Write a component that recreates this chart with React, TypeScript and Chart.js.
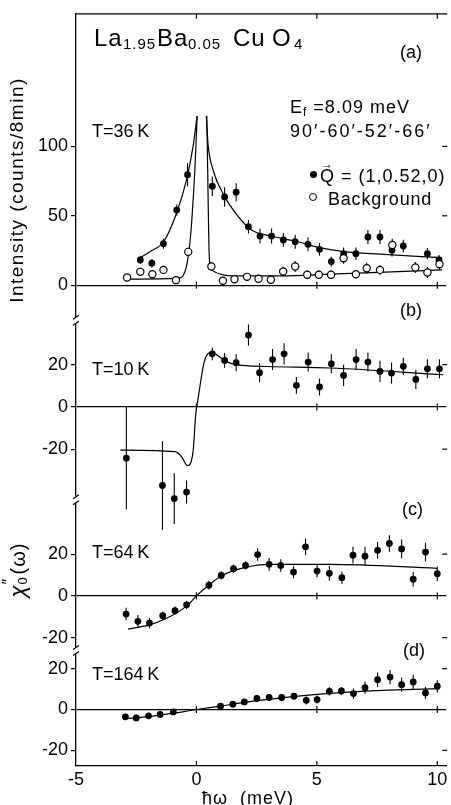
import React, { useEffect, useRef } from 'react';
import { Chart, registerables } from 'chart.js';

Chart.register(...registerables);

const FONT = '"Liberation Sans", Arial, Helvetica, sans-serif';

// ---------- shared energy axis ----------
const X_MIN = -5;
const X_MAX = 10.37;
const X_TICKS = [-5, 0, 5, 10];
const X_MINOR_MARKS = [0, 5, 10];

// ---------- panel (a): T = 36 K, intensity (counts / 8 min) ----------
const A_RANGE = [-25.3, 195.6];
const A_TICKS = [0, 50, 100];
const A_SIG_X = [-2.33, -1.85, -1.37, -0.82, -0.37, 0.66, 1.17, 1.65, 2.16, 2.64, 3.12, 3.61, 4.1, 4.63, 5.11, 5.6, 6.11, 6.62, 7.12, 7.62, 8.12, 8.59, 9.59, 10.07];
const A_SIG_Y = [18.2, 15.8, 29.9, 54.1, 79.6, 71.3, 63.6, 67.0, 42.1, 35.4, 35.4, 32.6, 31.3, 29.4, 25.8, 17.0, 22.7, 22.7, 34.7, 34.7, 25.1, 28.3, 22.7, 18.2];
const A_SIG_ERR = [3, 3, 3.6, 4, 8.4, 7, 7, 6.5, 4.8, 5.4, 5.4, 5, 5, 5, 4.5, 3.5, 4.5, 4.5, 5, 5, 4.5, 4.5, 4, 3.5];
const A_BG_X = [-2.88, -2.33, -1.83, -1.37, -0.85, -0.34, 0.62, 1.1, 1.58, 2.1, 2.58, 3.09, 3.6, 4.1, 4.6, 5.08, 5.59, 6.11, 6.62, 7.07, 7.62, 8.13, 9.09, 9.59, 10.09];
const A_BG_Y = [5.5, 9.6, 7.9, 11.0, 3.6, 24.0, 13.4, 3.2, 4.3, 6.0, 4.6, 3.9, 9.8, 13.4, 7.5, 7.5, 7.5, 19.4, 7.9, 12.2, 11.0, 29.0, 12.7, 9.1, 15.1];
const A_BG_ERR = [2.5, 3, 3, 3, 2.5, 3, 3, 2.5, 2.5, 2.5, 2.5, 2.5, 3.5, 4, 3, 3, 3, 4, 3, 4, 3.5, 4.5, 4, 4, 4];
const A_FIT_SIG_L_X = [-2.43, -1.9, -1.37, -0.82, -0.41, -0.14, 0.03];
const A_FIT_SIG_L_Y = [18.7, 24.5, 31.1, 52.2, 76, 100, 122];
const A_FIT_SIG_R_X = [0.41, 0.48, 0.69, 1.17, 1.72, 2.27, 3.09, 4.1, 5.11, 6.11, 7.62, 10.2];
const A_FIT_SIG_R_Y = [122, 102, 83, 64, 49.8, 40, 35.4, 31.8, 27, 24.2, 22.3, 19.8];
const A_FIT_BG_L_X = [-2.9, -0.75, -0.55, -0.41, -0.27, -0.18, -0.06, 0.03];
const A_FIT_BG_L_Y = [4.3, 5.0, 7.0, 13.9, 30.6, 49.8, 85, 122];
const A_FIT_BG_R_X = [0.43, 0.47, 0.51, 0.55, 0.69, 1.17, 1.44, 3.5, 5.56, 10.2];
const A_FIT_BG_R_Y = [122, 80, 35, 16.3, 10.3, 7.2, 6.7, 6.7, 7.9, 11.0];

// ---------- panel (b): T = 10 K ----------
const B_RANGE = [-44, 41];
const B_TICKS = [-20, 0, 20];
const B_X = [-2.91, -1.41, -0.92, -0.41, 0.66, 1.17, 1.65, 2.16, 2.62, 3.16, 3.64, 4.15, 4.64, 5.11, 5.6, 6.11, 6.63, 7.12, 7.62, 8.1, 8.59, 9.11, 9.59, 10.09];
const B_Y = [-24.3, -37.2, -43.4, -40.3, 25.1, 22.0, 20.9, 34.0, 16.2, 22.4, 25.1, 10.2, 21.2, 9.4, 20.4, 14.9, 22.4, 21.2, 16.8, 16.0, 19.2, 13.0, 18.0, 18.0];
const B_ERR = [24.3, 21, 12, 5.4, 3, 3.5, 4, 5, 4.5, 5, 5, 4, 4.5, 4, 4.5, 5, 5, 4.5, 5, 5, 4, 4.5, 4.5, 4.5];
const B_FIT_X = [-3.16, -0.89, -0.62, -0.37, -0.14, -0.03, 0.07, 0.32, 0.55, 0.75, 1.17, 1.58, 2.96, 5.56, 10.25];
const B_FIT_Y = [-20.5, -21.2, -23.5, -27.8, -21.2, -3.9, 3.9, 21.2, 25.6, 25.2, 22.0, 20.1, 19.1, 18.4, 15.2];

// ---------- panel (c): T = 64 K ----------
const C_RANGE = [-26.1, 46];
const C_TICKS = [-20, 0, 20];
const C_X = [-2.92, -2.43, -1.95, -1.4, -0.89, -0.41, 0.52, 1.03, 1.54, 2.04, 2.54, 3.02, 3.5, 4.03, 4.53, 5.01, 5.52, 6.04, 6.5, 7.0, 7.52, 8.01, 8.52, 9.0, 9.51, 10.0];
const C_Y = [-8.7, -12.2, -13.0, -9.5, -7.1, -4.3, 5.1, 9.8, 13.0, 14.6, 19.8, 15.1, 14.6, 11.4, 23.5, 11.9, 10.8, 8.7, 19.5, 19.0, 21.8, 25.1, 22.5, 8.0, 21.0, 10.6];
const C_ERR = [3, 3, 2.5, 2, 2, 2, 2, 2, 2, 2, 3, 3, 3, 3, 4, 3, 3.5, 3, 4, 4.5, 4, 4, 4.5, 3.5, 4.5, 3.5];
const C_FIT_X = [-2.84, -1.99, -1.3, -0.4, 0, 0.52, 1.03, 1.99, 3.02, 5.56, 10.0];
const C_FIT_Y = [-15.9, -14.0, -11.1, -4.8, 0, 5.2, 9.5, 13.5, 15.1, 15.1, 13.2];

// ---------- panel (d): T = 164 K ----------
const D_RANGE = [-27.7, 29];
const D_TICKS = [-20, 0, 20];
const D_X = [-2.95, -2.5, -1.99, -1.51, -0.96, 1.0, 1.51, 1.99, 2.51, 3.02, 3.54, 4.05, 4.56, 5.01, 5.52, 6.02, 6.52, 7.0, 7.52, 8.04, 8.52, 9.0, 9.51, 10.0];
const D_Y = [-3.6, -4.1, -3.1, -2.4, -1.2, 1.6, 2.6, 3.7, 5.4, 5.9, 5.9, 6.5, 4.5, 4.9, 8.9, 9.1, 7.8, 10.7, 14.6, 15.9, 12.2, 13.5, 8.1, 11.4];
const D_ERR = [1.5, 1.5, 1.5, 1.5, 1.5, 1.5, 1.5, 1.5, 1.5, 1.5, 1.5, 1.5, 2, 2, 2, 2, 2.5, 3, 3.5, 3.5, 3.5, 3.5, 3, 3];
const D_FIT_X = [-3.02, -2, -1, 0, 1, 2, 3, 4, 5, 6, 7, 8, 10.1];
const D_FIT_Y = [-4.5, -3.5, -1.9, 0, 1.7, 3.5, 5.0, 6.3, 7.4, 8.3, 9.0, 9.5, 10.2];

const pts = (xs: number[], ys: number[]) => xs.map((x, i) => ({ x, y: ys[i] }));

const filled = (axis: string, xs: number[], ys: number[], errs: number[]) => ({
  type: 'scatter',
  yAxisID: axis,
  data: pts(xs, ys),
  errorBars: errs,
  pointRadius: 3.4,
  pointHoverRadius: 3.4,
  pointBackgroundColor: '#000',
  pointBorderColor: '#000',
  pointBorderWidth: 0,
  showLine: false,
  clip: false,
  order: 1,
});

const hollow = (axis: string, xs: number[], ys: number[], errs: number[]) => ({
  type: 'scatter',
  yAxisID: axis,
  data: pts(xs, ys),
  errorBars: errs,
  pointRadius: 3.6,
  pointHoverRadius: 3.6,
  pointBackgroundColor: '#fff',
  pointBorderColor: '#000',
  pointBorderWidth: 1.2,
  showLine: false,
  clip: false,
  order: 0,
});

const fit = (axis: string, xs: number[], ys: number[]) => ({
  type: 'scatter',
  yAxisID: axis,
  data: pts(xs, ys),
  showLine: true,
  cubicInterpolationMode: 'monotone',
  borderColor: '#000',
  borderWidth: 1.2,
  pointRadius: 0,
  pointHoverRadius: 0,
  fill: false,
  order: 2,
});

const yScale = (range: number[], ticks: number[], weight: number, px: number) => ({
  type: 'linear',
  position: 'left',
  stack: 'panels',
  stackWeight: px,
  weight,
  min: range[0],
  max: range[1],
  afterBuildTicks: (s: any) => {
    s.ticks = ticks.map((v) => ({ value: v }));
  },
  afterFit: (s: any) => {
    s.width = 76;
  },
  border: { display: true, color: '#000', width: 1.3 },
  grid: {
    display: true,
    drawOnChartArea: true,
    color: (c: any) => (c.tick && c.tick.value === 0 ? '#000' : 'rgba(0,0,0,0)'),
    lineWidth: 1.2,
    tickColor: '#000',
    tickLength: 5,
    tickWidth: 1.2,
  },
  ticks: {
    color: '#000',
    padding: 3,
    font: { family: FONT, size: 18 },
    autoSkip: false,
  },
});

const decorPlugin = {
  id: 'decor',
  beforeDatasetsDraw(chart: any) {
    const ctx = chart.ctx;
    const xs = chart.scales.x;
    ctx.save();
    ctx.strokeStyle = '#000';
    ctx.lineWidth = 1.1;
    chart.data.datasets.forEach((ds: any, i: number) => {
      if (!ds.errorBars) return;
      const meta = chart.getDatasetMeta(i);
      const ys = chart.scales[meta.yAxisID];
      ds.data.forEach((p: any, j: number) => {
        const e = ds.errorBars[j];
        const px = xs.getPixelForValue(p.x);
        ctx.beginPath();
        ctx.moveTo(px, ys.getPixelForValue(p.y - e));
        ctx.lineTo(px, ys.getPixelForValue(p.y + e));
        ctx.stroke();
      });
    });
    ctx.restore();
  },
  afterDraw(chart: any) {
    const ctx = chart.ctx;
    const { left, right, top, bottom } = chart.chartArea;
    const xs = chart.scales.x;
    ctx.save();
    ctx.strokeStyle = '#000';
    ctx.lineWidth = 1.3;
    // top frame
    ctx.beginPath();
    ctx.moveTo(left, top);
    ctx.lineTo(right + 1, top);
    ctx.stroke();
    ctx.lineWidth = 1.2;
    X_MINOR_MARKS.forEach((v) => {
      const px = xs.getPixelForValue(v);
      ctx.beginPath();
      ctx.moveTo(px, top);
      ctx.lineTo(px, top + 5);
      ctx.moveTo(px, bottom);
      ctx.lineTo(px, bottom - 5);
      ctx.stroke();
    });
    const ids = ['ya', 'yb', 'yc', 'yd'];
    const tickSets = [A_TICKS, B_TICKS, C_TICKS, D_TICKS];
    ids.forEach((id, k) => {
      const s = chart.scales[id];
      const y0 = s.getPixelForValue(0);
      X_MINOR_MARKS.forEach((v) => {
        const px = xs.getPixelForValue(v);
        ctx.beginPath();
        ctx.moveTo(px, y0 - 3.5);
        ctx.lineTo(px, y0 + 3.5);
        ctx.stroke();
      });
      tickSets[k].forEach((v) => {
        if (v === 0) return;
        const py = s.getPixelForValue(v);
        ctx.beginPath();
        ctx.moveTo(right - 4, py);
        ctx.lineTo(right + 1, py);
        ctx.stroke();
      });
    });
    // axis breaks between panels
    ['ya', 'yb', 'yc'].forEach((id) => {
      const y = chart.scales[id].bottom;
      const x = left;
      ctx.fillStyle = '#fff';
      ctx.fillRect(x - 3, y - 3, 6, 6);
      ctx.beginPath();
      ctx.moveTo(x - 3, y - 1);
      ctx.lineTo(x + 3, y - 5);
      ctx.moveTo(x - 3, y + 5);
      ctx.lineTo(x + 3, y + 1);
      ctx.stroke();
    });
    ctx.restore();
  },
};

function Txt(props: { x: number; base: number; size?: number; ls?: number; children: any; style?: any }) {
  const size = props.size ?? 18;
  return (
    <div
      style={{
        position: 'absolute',
        left: props.x,
        top: props.base - 0.8465 * size,
        fontSize: size,
        lineHeight: `${size}px`,
        whiteSpace: 'pre',
        letterSpacing: props.ls ?? 0,
        ...(props.style || {}),
      }}
    >
      {props.children}
    </div>
  );
}

export default function App() {
  const ref = useRef<HTMLCanvasElement>(null);
  useEffect(() => {
    const chart = new Chart(ref.current as HTMLCanvasElement, {
      type: 'scatter',
      data: {
        datasets: [
          fit('ya', A_FIT_SIG_L_X, A_FIT_SIG_L_Y),
          fit('ya', A_FIT_SIG_R_X, A_FIT_SIG_R_Y),
          fit('ya', A_FIT_BG_L_X, A_FIT_BG_L_Y),
          fit('ya', A_FIT_BG_R_X, A_FIT_BG_R_Y),
          filled('ya', A_SIG_X, A_SIG_Y, A_SIG_ERR),
          hollow('ya', A_BG_X, A_BG_Y, A_BG_ERR),
          fit('yb', B_FIT_X, B_FIT_Y),
          filled('yb', B_X, B_Y, B_ERR),
          fit('yc', C_FIT_X, C_FIT_Y),
          filled('yc', C_X, C_Y, C_ERR),
          fit('yd', D_FIT_X, D_FIT_Y),
          filled('yd', D_X, D_Y, D_ERR),
        ] as any,
      },
      options: {
        animation: false,
        responsive: false,
        devicePixelRatio: 1,
        events: [],
        layout: { padding: { top: 10, right: 1, bottom: 0, left: 0 } },
        plugins: { legend: { display: false }, tooltip: { enabled: false } },
        scales: {
          x: {
            type: 'linear',
            position: 'bottom',
            min: X_MIN,
            max: X_MAX,
            afterBuildTicks: (s: any) => {
              s.ticks = X_TICKS.map((v) => ({ value: v }));
            },
            afterFit: (s: any) => {
              s.height = 39;
              s.paddingLeft = 0;
              s.paddingRight = 0;
            },
            border: { display: true, color: '#000', width: 1.3 },
            grid: { display: false },
            ticks: {
              color: '#000',
              padding: -5,
              maxRotation: 0,
              autoSkip: false,
              font: { family: FONT, size: 18 },
            },
          },
          ya: yScale(A_RANGE, A_TICKS, 4, 308),
          yb: yScale(B_RANGE, B_TICKS, 3, 180.5),
          yc: yScale(C_RANGE, C_TICKS, 2, 151.3),
          yd: yScale(D_RANGE, D_TICKS, 1, 116.2),
        } as any,
      },
      plugins: [decorPlugin as any],
    });
    return () => chart.destroy();
  }, []);

  return (
    <div
      style={{
        position: 'absolute',
        left: 0,
        top: 0,
        width: 451,
        height: 805,
        overflow: 'hidden',
        background: '#fff',
        color: '#000',
        fontFamily: FONT,
      }}
    >
      <canvas ref={ref} width={451} height={805} style={{ position: 'absolute', left: 0, top: 0, width: 451, height: 805 }} />

      {/* compound */}
      <Txt x={94} base={46} size={24} ls={1}>La</Txt>
      <Txt x={123} base={49} size={15} ls={1}>1.95</Txt>
      <Txt x={157} base={46} size={24} ls={1}>Ba</Txt>
      <Txt x={188} base={49} size={15} ls={1}>0.05</Txt>
      <Txt x={233} base={46} size={24} ls={1}>Cu</Txt>
      <Txt x={272} base={46} size={24}>O</Txt>
      <Txt x={294} base={49} size={15}>4</Txt>

      <Txt x={400} base={58} size={18}>(a)</Txt>
      <Txt x={92} base={137} size={18}>{'T=36\u2009K'}</Txt>
      <Txt x={290} base={113} size={18} ls={1}>
        E<span style={{ fontSize: 12, position: 'relative', top: 3 }}>f</span>{' =8.09 meV'}
      </Txt>
      <Txt x={290} base={137} size={18} ls={2}>90′-60′-52′-66′</Txt>

      {/* legend */}
      <div style={{ position: 'absolute', left: 310, top: 171, width: 7, height: 7, borderRadius: '50%', background: '#000' }} />
      <Txt x={320} base={182} size={18} ls={1}>
        <span style={{ position: 'relative' }}>
          Q
          <span style={{ position: 'absolute', left: 1, top: -11, fontSize: 12 }}>→</span>
        </span>
        {' = (1,0.52,0)'}
      </Txt>
      <div style={{ position: 'absolute', left: 309, top: 193, width: 6, height: 6, borderRadius: '50%', border: '1.2px solid #000', background: '#fff' }} />
      <Txt x={328} base={205} size={18} ls={0.8}>Background</Txt>

      <Txt x={400} base={316} size={18}>(b)</Txt>
      <Txt x={92} base={375} size={18}>{'T=10\u2009K'}</Txt>
      <Txt x={402} base={515} size={18}>(c)</Txt>
      <Txt x={92} base={558} size={18}>{'T=64\u2009K'}</Txt>
      <Txt x={403} base={656} size={18}>(d)</Txt>
      <Txt x={92} base={680} size={18}>{'T=164\u2009K'}</Txt>

      {/* y titles */}
      <div
        style={{
          position: 'absolute',
          left: 16,
          top: 190,
          transform: 'translate(-50%, -50%) rotate(-90deg)',
          fontSize: 19,
          lineHeight: '19px',
          letterSpacing: 1.5,
          whiteSpace: 'nowrap',
        }}
      >
        Intensity (counts/8min)
      </div>
      <div
        style={{
          position: 'absolute',
          left: 16,
          top: 570,
          transform: 'translate(-50%, -50%) rotate(-90deg)',
          fontSize: 20,
          lineHeight: '20px',
          whiteSpace: 'nowrap',
        }}
      >
        <span style={{ fontStyle: 'italic', fontSize: 22 }}>χ</span>
        <span style={{ display: 'inline-block', position: 'relative', width: 11, height: 20 }}>
          <span style={{ position: 'absolute', left: 1, top: -6, fontSize: 16 }}>″</span>
          <span style={{ position: 'absolute', left: 1, top: 8, fontSize: 13 }}>0</span>
        </span>
        <span style={{ letterSpacing: 1 }}>(ω)</span>
      </div>

      {/* x title */}
      <Txt x={202} base={804} size={18} ls={1}>{'ħω\u00a0\u00a0(meV)'}</Txt>
    </div>
  );
}
